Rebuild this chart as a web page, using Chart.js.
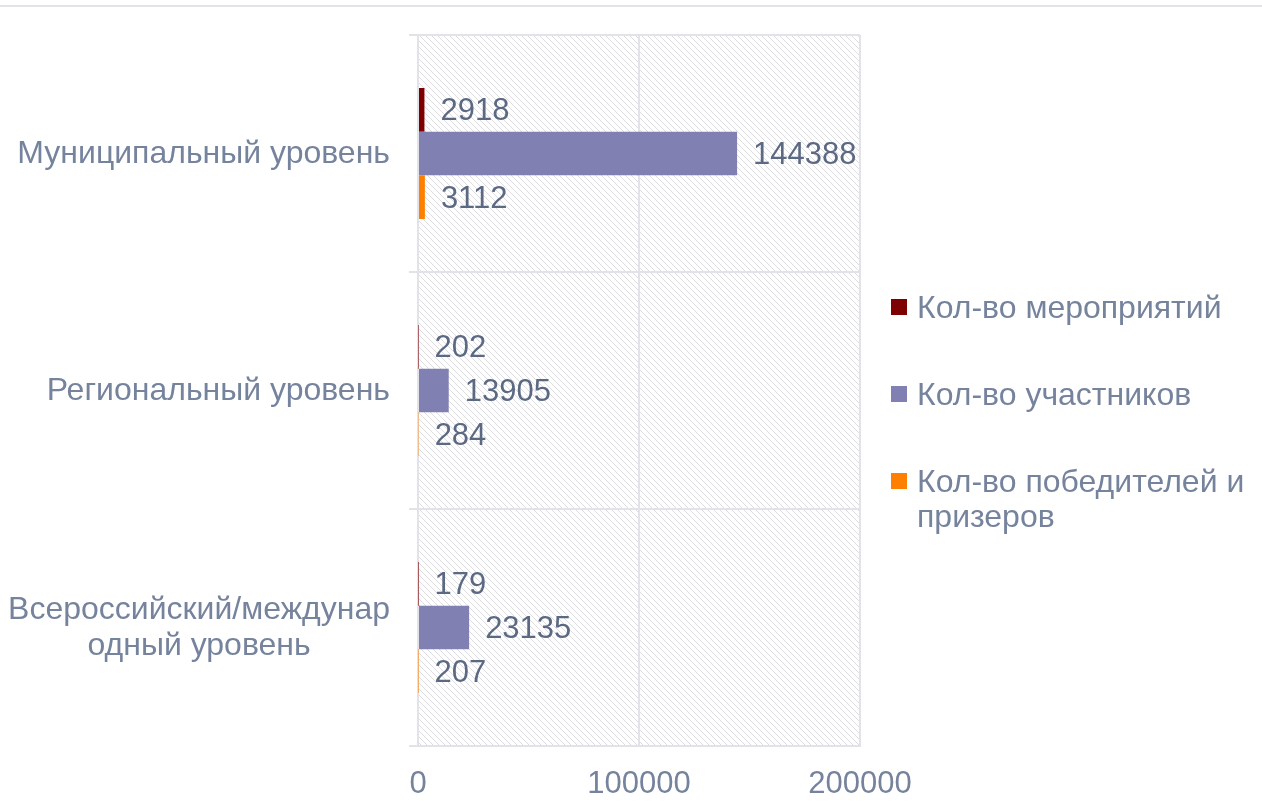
<!DOCTYPE html>
<html lang="ru">
<head>
<meta charset="utf-8">
<script src="https://cdn.jsdelivr.net/npm/chart.js@4.4.1/dist/chart.umd.min.js"></script>
<style>
    html, body { margin: 0; padding: 0; background: #fff; }
    body { width: 1262px; height: 812px; position: relative; overflow: hidden; font-family: 'Liberation Sans', Arial, sans-serif; }
    .top-line { position: absolute; left: 0; top: 5px; width: 1262px; height: 2px; background: #e2e2e8; }
    .chart-box { position: absolute; left: 0; top: 0; width: 1262px; height: 812px; }
    .legend { position: absolute; left: 891px; top: 290px; width: 370px; }
    .legend-item { position: relative; padding-left: 26px; font-size: 32px; line-height: 35px; color: #76839c; margin-bottom: 52px; }
    .legend-item span { position: absolute; left: 0; top: 9px; width: 16px; height: 16px; }
</style>
</head>
<body>
<div class="top-line"></div>
<div class="chart-box"><canvas id="olympChart" width="1262" height="812"></canvas></div>
<div class="legend" id="legendBox"></div>

<script>
// Данные диаграммы
const categories = [
    ['Муниципальный уровень'],
    ['Региональный уровень'],
    ['Всероссийский/междунар', 'одный уровень']
];
const seriesNames = ['Кол-во мероприятий', 'Кол-во участников', 'Кол-во победителей и призеров'];
const eventsCount = [2918, 202, 179];
const participantsCount = [144388, 13905, 23135];
const winnersCount = [3112, 284, 207];
const xTicks = [0, 100000, 200000];

const seriesColors = ['#7f0000', '#8080b2', '#ff8000'];
const labelColor = '#76839c';
const valueColor = '#5b6983';
const gridColor = '#e2e2e9';
const fontFamily = "'Liberation Sans', Arial, sans-serif";

// Штриховка фона области построения
function makeHatch(ctx) {
    const c = document.createElement('canvas');
    c.width = 6; c.height = 6;
    const p = c.getContext('2d');
    p.strokeStyle = '#dcdce1';
    p.lineWidth = 1;
    p.beginPath();
    p.moveTo(-1, -1); p.lineTo(7, 7);
    p.moveTo(-1, 5); p.lineTo(1, 7);
    p.moveTo(5, -1); p.lineTo(7, 1);
    p.stroke();
    return ctx.createPattern(c, 'repeat');
}

const hatchPlugin = {
    id: 'hatchBg',
    beforeDraw(chart) {
        const { ctx, chartArea: a } = chart;
        ctx.save();
        ctx.fillStyle = makeHatch(ctx);
        ctx.fillRect(a.left, a.top, a.right - a.left, a.bottom - a.top);
        ctx.restore();
    }
};

// Подписи значений справа от столбцов
const valueLabelsPlugin = {
    id: 'valueLabels',
    afterDatasetsDraw(chart) {
        const ctx = chart.ctx;
        ctx.save();
        ctx.font = '31px ' + fontFamily;
        ctx.fillStyle = valueColor;
        ctx.textAlign = 'left';
        ctx.textBaseline = 'middle';
        chart.data.datasets.forEach((ds, i) => {
            chart.getDatasetMeta(i).data.forEach((bar, j) => {
                ctx.fillText(String(ds.data[j]), bar.x + 16, bar.y + 2);
            });
        });
        ctx.restore();
    }
};

// Подписи категорий: блок выровнен вправо, строки по центру блока
const categoryLabelsPlugin = {
    id: 'categoryLabels',
    afterDraw(chart) {
        const ctx = chart.ctx;
        const yScale = chart.scales.y;
        const rightEdge = 390;
        const lineHeight = 36;
        ctx.save();
        ctx.font = '32px ' + fontFamily;
        ctx.fillStyle = labelColor;
        ctx.textAlign = 'center';
        ctx.textBaseline = 'middle';
        categories.forEach((lines, i) => {
            const maxW = Math.max(...lines.map(l => ctx.measureText(l).width));
            const cx = rightEdge - maxW / 2;
            const cy = yScale.getPixelForValue(i);
            const startY = cy - (lines.length - 1) * lineHeight / 2;
            lines.forEach((l, k) => ctx.fillText(l, cx, startY + k * lineHeight + 1));
        });
        ctx.restore();
    }
};

const ctx = document.getElementById('olympChart').getContext('2d');
new Chart(ctx, {
    type: 'bar',
    data: {
        labels: categories.map(c => c.join(' ')),
        datasets: [
            { label: seriesNames[0], data: eventsCount, backgroundColor: seriesColors[0] },
            { label: seriesNames[1], data: participantsCount, backgroundColor: seriesColors[1] },
            { label: seriesNames[2], data: winnersCount, backgroundColor: seriesColors[2] }
        ]
    },
    options: {
        indexAxis: 'y',
        responsive: false,
        animation: false,
        categoryPercentage: 0.553,
        barPercentage: 1,
        layout: { padding: { left: 0, right: 402, top: 35, bottom: 0 } },
        plugins: { legend: { display: false }, tooltip: { enabled: false } },
        scales: {
            x: {
                min: 0, max: 200000,
                afterBuildTicks: (scale) => { scale.ticks = xTicks.map(v => ({ value: v })); },
                afterFit: (scale) => { scale.height = 66; },
                grid: { color: gridColor, lineWidth: 2, drawTicks: false },
                border: { color: gridColor, width: 2 },
                ticks: {
                    color: labelColor, padding: 20,
                    font: { size: 31, family: fontFamily },
                    callback: (v) => String(v)
                }
            },
            y: {
                afterFit: (scale) => { scale.width = 418; },
                grid: { color: gridColor, lineWidth: 2, tickLength: 9, offset: true },
                border: { color: gridColor, width: 2 },
                ticks: { display: false }
            }
        }
    },
    plugins: [hatchPlugin, valueLabelsPlugin, categoryLabelsPlugin]
});

// Легенда справа
const legendBox = document.getElementById('legendBox');
seriesNames.forEach((name, i) => {
    const item = document.createElement('div');
    item.className = 'legend-item';
    item.innerHTML = `<span style="background:${seriesColors[i]}"></span>${name.replace('победителей и ', 'победителей и<br>')}`;
    legendBox.appendChild(item);
});
</script>
</body>
</html>
